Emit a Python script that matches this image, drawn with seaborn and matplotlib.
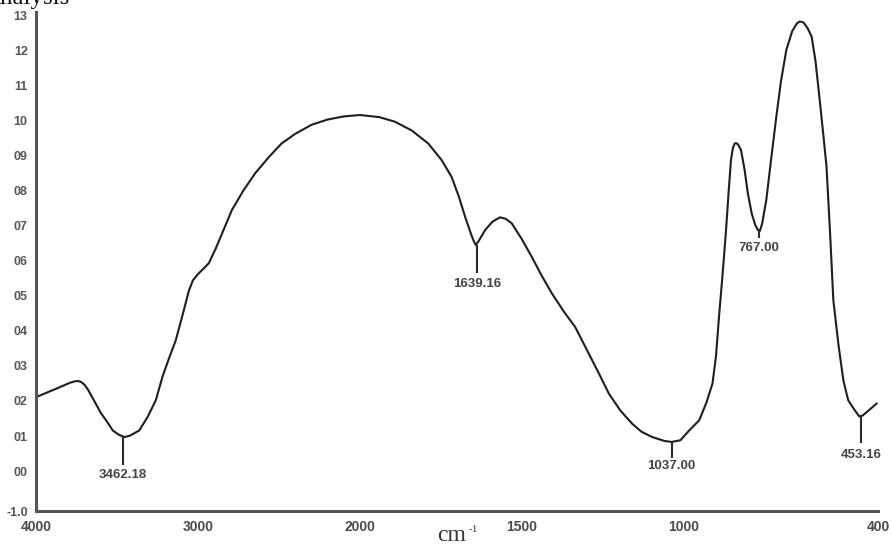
import numpy as np
import pandas as pd
import matplotlib
matplotlib.use("Agg")
import matplotlib.pyplot as plt
import seaborn as sns

# ---- data -------------------------------------------------------------
wavenumber = [4000, 3870, 3790, 3760, 3740, 3720, 3700, 3680, 3640, 3600,
              3560, 3526, 3490, 3454, 3420, 3362, 3310, 3260, 3219, 3180,
              3137, 3095, 3055, 3030, 3000, 2960, 2933, 2890, 2851, 2790,
              2720, 2646, 2560, 2483, 2400, 2299, 2200, 2100, 2000, 1940,
              1892, 1840, 1789, 1748, 1717, 1695, 1675, 1660, 1650, 1642,
              1634, 1613, 1590, 1567, 1550, 1531, 1500, 1469, 1440, 1407,
              1370, 1335, 1293, 1260, 1231, 1195, 1159, 1130, 1097, 1060,
              1037, 1010, 983, 952, 930, 911, 900, 891, 880, 870,
              861, 854, 848, 843, 839, 833, 823, 812, 802, 790,
              779, 771, 765, 758, 745, 730, 714, 700, 683, 665,
              650, 641, 630, 618, 605, 593, 580, 570, 559, 548,
              538, 522, 507, 492, 475, 458, 448, 430, 404]
absorbance = [2.11, 2.36, 2.52, 2.56, 2.57, 2.54, 2.46, 2.33, 2.00, 1.66,
              1.40, 1.16, 1.04, 0.97, 1.01, 1.16, 1.55, 2.02, 2.69, 3.20,
              3.73, 4.45, 5.16, 5.45, 5.62, 5.80, 5.93, 6.35, 6.78, 7.45,
              8.00, 8.50, 8.97, 9.35, 9.62, 9.88, 10.03, 10.12, 10.16, 10.10,
              9.97, 9.72, 9.35, 8.88, 8.40, 7.85, 7.26, 6.85, 6.60, 6.45,
              6.55, 6.88, 7.12, 7.24, 7.20, 7.07, 6.62, 6.11, 5.60, 5.07,
              4.55, 4.11, 3.35, 2.75, 2.21, 1.72, 1.35, 1.12, 0.97, 0.86,
              0.83, 0.88, 1.16, 1.45, 1.95, 2.50, 3.30, 4.40, 5.60, 6.78,
              8.00, 8.88, 9.22, 9.34, 9.36, 9.33, 9.16, 8.60, 7.93, 7.35,
              7.02, 6.88, 6.85, 7.05, 7.73, 8.90, 10.11, 11.10, 12.02, 12.55,
              12.78, 12.83, 12.80, 12.65, 12.40, 11.70, 10.59, 9.70, 8.69, 6.80,
              4.88, 3.60, 2.59, 2.02, 1.78, 1.56, 1.58, 1.72, 1.93]

peak_wn = [3462.18, 1639.16, 1037.00, 767.00, 453.16]
peak_labels = ["3462.18", "1639.16", "1037.00", "767.00", "453.16"]
peak_top = [0.97, 6.45, 0.83, 6.85, 1.54]
peak_bottom = [0.16, 5.64, 0.36, 6.64, 0.79]
peak_label_y = [-0.12, 5.35, 0.13, 6.36, 0.46]

x_ticks = [4000, 3000, 2000, 1500, 1000, 400]
x_tick_labels = ["4000", "3000", "2000", "1500", "1000", "400"]
y_ticks = [13, 12, 11, 10, 9, 8, 7, 6, 5, 4, 3, 2, 1, 0, -1.14]
y_tick_labels = ["13", "12", "11", "10", "09", "08", "07", "06", "05",
                 "04", "03", "02", "01", "00", "-1.0"]

df = pd.DataFrame({"wavenumber": wavenumber, "absorbance": absorbance})

# ---- styling -----------------------------------------------------------
sns.set_theme(style="white")
plt.rcParams["font.family"] = ["Liberation Sans", "DejaVu Sans"]

fig = plt.figure(figsize=(8.91, 5.45), dpi=100)
ax = fig.add_axes([36 / 891, 1 - 511 / 545, 842 / 891, 499 / 545])


def fwd(x):
    x = np.asarray(x, dtype=float)
    return np.where(x >= 2000, x - 2000, 2.0 * (x - 2000))


def inv(p):
    p = np.asarray(p, dtype=float)
    return np.where(p >= 0, p + 2000, p / 2.0 + 2000)


ax.set_xscale("function", functions=(fwd, inv))

sns.lineplot(data=df, x="wavenumber", y="absorbance", ax=ax,
             color="#1e1e1e", linewidth=1.5, estimator=None, sort=False)

ax.vlines(peak_wn, peak_bottom, peak_top, color="#2a2a2a", linewidth=1.5)
for xw, yl, lab in zip(peak_wn, peak_label_y, peak_labels):
    ax.text(xw, yl, lab, ha="center", va="center", fontsize=9.5,
            fontweight="bold", color="#444444")

ax.set_xlim(4000, 400)
ax.set_ylim(-1.14, 13.1)
ax.set_xticks(x_ticks)
ax.set_xticklabels(x_tick_labels)
ax.set_yticks(y_ticks)
ax.set_yticklabels(y_tick_labels)
ax.minorticks_off()
ax.set_xlabel("")
ax.set_ylabel("")

for side in ["top", "right"]:
    ax.spines[side].set_visible(False)
for side in ["left", "bottom"]:
    ax.spines[side].set_color("#555555")
    ax.spines[side].set_linewidth(2.2)

ax.tick_params(axis="y", direction="out", length=4, width=1.5,
               color="#444444", labelsize=9, labelcolor="#555555", pad=2)
ax.tick_params(axis="x", direction="inout", length=3, width=1.2,
               color="#444444", labelsize=10, labelcolor="#4a4a4a", pad=5)
for lab in ax.get_xticklabels() + ax.get_yticklabels():
    lab.set_fontweight("bold")

# axis unit label and cropped title
fig.text(437 / 891, 1 - 541 / 545, "cm", fontsize=17,
         family=["Liberation Serif", "DejaVu Serif"], color="#333333",
         ha="left", va="baseline")
fig.text(469 / 891, 1 - 532 / 545, "-1", fontsize=8,
         family=["Liberation Serif", "DejaVu Serif"], color="#333333",
         ha="left", va="baseline")
fig.text(70 / 891, 1 - 4 / 545, "Analysis", fontsize=18,
         family=["Liberation Serif", "DejaVu Serif"], color="#111111",
         ha="right", va="baseline")

fig.savefig("out.png", dpi=100)
